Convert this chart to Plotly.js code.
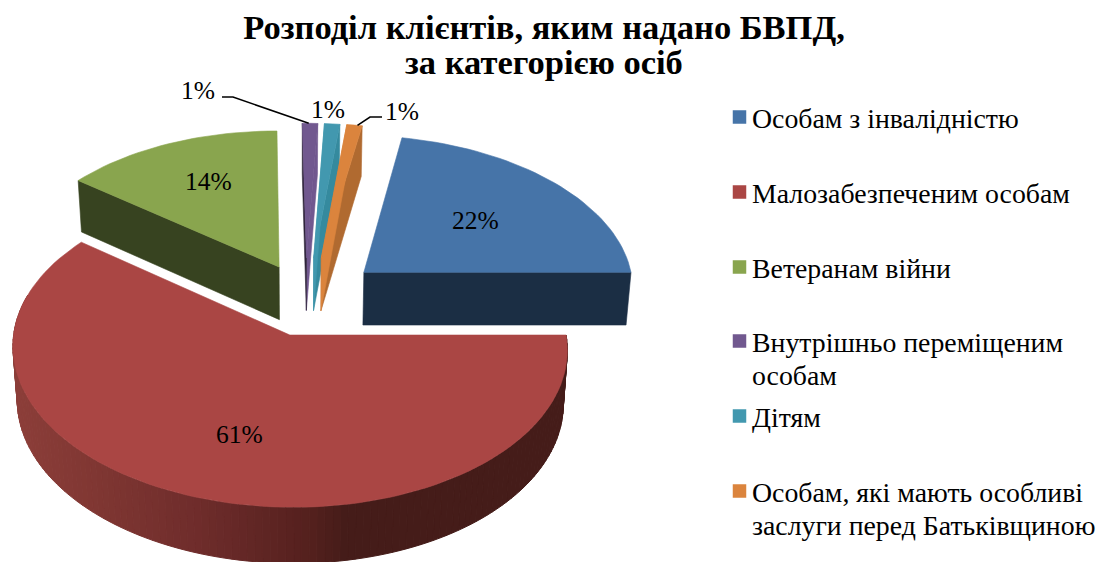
<!DOCTYPE html>
<html><head><meta charset="utf-8">
<script src="https://cdn.plot.ly/plotly-3.0.1.min.js"></script>
<style>html,body{margin:0;padding:0;background:#fff}#c{width:1106px;height:562px}</style>
</head><body><div id="c"></div>
<script>
const titleLines = ["Розподіл клієнтів, яким надано БВПД,","за категорією осіб"];
const categories = [["Особам з інвалідністю"],["Малозабезпеченим особам"],["Ветеранам війни"],["Внутрішньо переміщеним","особам"],["Дітям"],["Особам, які мають особливі","заслуги перед Батьківщиною"]];
const values = [22,60.6,14.4,1,1,1];

// styling of each slice
const topColors  = ["#4674a8","#aa4644","#89a54e","#71588f","#4298af","#db843d"];
const startFace  = [null,null,"#374320","#2e2439","#4298af","#db843d"];
const endFace    = ["#1b2e44",null,null,"#71588f","#358a9e","#b06a30"];
const explode    = [0.207,0.295,0.20,0.23,0.23,0.23];
const nudgeX     = [0.026,0,-0.044,-0.035,-0.022,-0.008];
const nudgeY     = [0,0,0.012,0,0,0];
const drawOrder  = [2,3,4,5,0,1];
const wallStops  = [[0,"#8e3f3a"],[100,"#7f3632"],[200,"#6e2c2b"],[310,"#54201d"],[345,"#451c19"],[1106,"#451c19"]];

// view of the disc
const firstAngle = 10.8, R = 270, K = 150.9/270, persp = 0.081, vanishX = 250, centreX = 315, centreY = 292, depth = 53;
const bottomShrink = 0.985, bottomCx = 300;

const project = (X,Y,low) => {
  const w = 1/(1-persp*Y);
  let sx = vanishX + (centreX-vanishX + R*X)*w;
  let sy = centreY + R*K*Y*w;
  if (low) { sx = bottomCx + (sx-bottomCx)*bottomShrink; sy += depth*(0.5+0.5*w); }
  return [sx,sy];
};
const total = values.reduce((a,b)=>a+b,0);
let acc = firstAngle;
const slices = values.map((v,i)=>{
  const a0 = acc, a1 = acc + v/total*360; acc = a1;
  const mid = (a0+a1)/2*Math.PI/180;
  const ax = explode[i]*Math.sin(mid)+nudgeX[i], ay = -explode[i]*Math.cos(mid)+nudgeY[i];
  const rim = (deg,low)=>project(ax+Math.sin(deg*Math.PI/180), ay-Math.cos(deg*Math.PI/180), low);
  return {a0,a1,rim,apex:low=>project(ax,ay,low)};
});
const poly = (pts,color,lw)=>({type:"scatter",mode:"lines",x:pts.map(p=>p[0]).concat(pts[0][0]),y:pts.map(p=>p[1]).concat(pts[0][1]),
  fill:"toself",fillcolor:color,line:{color:color,width:lw===undefined?0.6:lw},hoverinfo:"skip",showlegend:false});
const hex = c=>[1,3,5].map(i=>parseInt(c.substr(i,2),16));
const wallColor = x=>{
  for (let i=0;i<wallStops.length-1;i++){
    const [x0,c0]=wallStops[i],[x1,c1]=wallStops[i+1];
    if (x<=x1){const t=Math.max(0,(x-x0)/(x1-x0));const a=hex(c0),b=hex(c1);
      return "rgb("+a.map((q,j)=>Math.round(q+(b[j]-q)*t)).join(",")+")";}
  }
  return wallStops[wallStops.length-1][1];
};
const traces = [];
drawOrder.forEach(i=>{
  const s = slices[i];
  if (values[i]>40){ // front wall of the largest slice, shaded across the width
    const lo=Math.max(s.a0,90), hi=Math.min(s.a1,285), step=1.5;
    for(let d=lo;d<hi;d+=step){
      const e=Math.min(d+step,hi);
      const p=[s.rim(d,false),s.rim(e,false),s.rim(e,true),s.rim(d,true)];
      traces.push(poly(p,wallColor((p[0][0]+p[1][0])/2),1));
    }
  }
  const face=(deg,color)=>{ if(color) traces.push(poly([s.apex(false),s.rim(deg,false),s.rim(deg,true),s.apex(true)],color)); };
  if (values[i]===1){ face(s.a1,endFace[i]); face(s.a0,startFace[i]); }
  else { face(s.a0,startFace[i]); face(s.a1,endFace[i]); }
  const pts=[s.apex(false)];
  const n=Math.max(2,Math.ceil((s.a1-s.a0)/2));
  for(let j=0;j<=n;j++) pts.push(s.rim(s.a0+(s.a1-s.a0)*j/n,false));
  traces.push(poly(pts,topColors[i]));
});

// leader lines from the outside labels to the thin slices
const leader=(i,deg,pts)=>{const r=slices[i].rim(deg,false);
  traces.push({type:"scatter",mode:"lines",x:pts.map(p=>p[0]).concat(r[0]),y:pts.map(p=>p[1]).concat(r[1]),line:{color:"#000",width:1.6},hoverinfo:"skip",showlegend:false});};
leader(3,slices[3].a0+1.5,[[222,97],[233,97]]);
leader(5,slices[5].a0+2.5,[[382,117],[370,117]]);

// legend
const legendX = 739.5, legendTextX = 752, legendY = [117,192,267,341,416,491], legendLine = 33;
traces.push({type:"scatter",mode:"markers",x:legendY.map(()=>legendX),y:legendY,marker:{symbol:"square",size:13.5,color:topColors,line:{width:0}},hoverinfo:"skip",showlegend:false});

const font = "Liberation Serif, Times New Roman, serif";
const labelPos = [[475,220],[239,434],[208,181],[198,90],[328,109],[402,111]];
const annotations = values.map((v,i)=>({xref:"x",yref:"y",x:labelPos[i][0],y:labelPos[i][1],text:Math.round(v)+"%",showarrow:false,font:{family:font,size:25.5,color:"#000"},xanchor:"center",yanchor:"middle"}));
categories.forEach((c,i)=>c.forEach((line,j)=>annotations.push({xref:"x",yref:"y",x:legendTextX,y:legendY[i]+1+j*legendLine,text:line,showarrow:false,align:"left",xanchor:"left",yanchor:"middle",font:{family:font,size:27.8,color:"#000"},xshift:-2})));
annotations.push({xref:"x",yref:"y",x:544,y:62,text:"<b>"+titleLines[1]+"</b>",showarrow:false,xanchor:"center",yanchor:"middle",font:{family:font,size:34.5,color:"#000"}});

Plotly.newPlot("c",traces,{
  width:1106,height:562,margin:{l:0,r:0,t:0,b:0},paper_bgcolor:"#fff",plot_bgcolor:"#fff",showlegend:false,
  title:{text:"<b>"+titleLines[0]+"</b>",x:544/1106,xanchor:"center",y:1-27/562,yanchor:"middle",font:{family:font,size:34.5,color:"#000"}},
  xaxis:{range:[0,1106],visible:false,fixedrange:true},
  yaxis:{range:[562,0],visible:false,fixedrange:true},
  annotations
},{displayModeBar:false,staticPlot:true});
</script></body></html>
